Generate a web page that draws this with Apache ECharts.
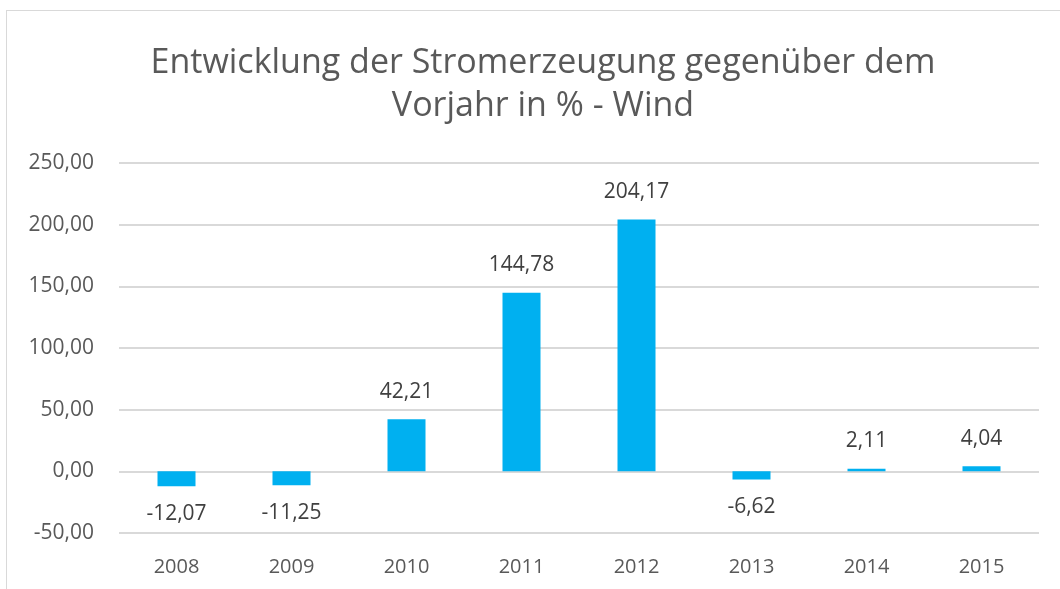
<!DOCTYPE html>
<html>
<head>
<meta charset="utf-8">
<style>
	html, body { margin: 0; padding: 0; background: #fff; }
	#frame { position: absolute; left: 6px; top: 10px; width: 1070px; height: 600px; border: 1px solid #d9d9d9; box-sizing: border-box; }
	#chart { position: absolute; left: 0; top: 0; width: 1060px; height: 589px; }
</style>
</head>
<body>
	<div id="frame"></div>
	<div id="chart"></div>

	<script src="https://cdn.jsdelivr.net/npm/echarts@6/dist/echarts.min.js"></script>
	<script>
		var years = ['2008','2009','2010','2011','2012','2013','2014','2015'];
		var values = [-12.07, -11.25, 42.21, 144.78, 204.17, -6.62, 2.11, 4.04];

		var fmt = function (v) { return v.toFixed(2).replace('.', ','); };

		// negative bars get their label underneath
		var barData = values.map(function (v) {
		    return { value: v, label: { position: v < 0 ? 'bottom' : 'top' } };
		});

		var chart = echarts.init(document.getElementById('chart'));

		chart.setOption({
		    title: {
		        text: 'Entwicklung der Stromerzeugung gegenüber dem\nVorjahr in % - Wind',
		        left: 538, top: 37,
		        textAlign: 'center',
		        textStyle: { fontFamily: 'Open Sans', fontSize: 34, fontWeight: 'normal', color: '#595959', lineHeight: 43 }
		    },
		    grid: { left: 119, right: 21, top: 163, bottom: 56 },
		    xAxis: {
		        type: 'category',
		        data: years,
		        axisLine: { show: false },
		        axisTick: { show: false },
		        axisLabel: { color: '#595959', fontSize: 20, fontFamily: 'Open Sans', margin: 24 }
		    },
		    yAxis: {
		        type: 'value',
		        min: -50, max: 250, interval: 50,
		        axisLine: { show: false },
		        axisTick: { show: false },
		        splitLine: { lineStyle: { color: '#d9d9d9', width: 2 } },
		        axisLabel: { color: '#595959', fontSize: 21, fontFamily: 'Open Sans', margin: 25, formatter: fmt }
		    },
		    series: [{
		        type: 'bar',
		        data: barData,
		        barWidth: 38,
		        itemStyle: { color: '#00b0f0' },
		        label: {
		            show: true,
		            distance: 17,
		            color: '#404040',
		            fontSize: 21,
		            fontFamily: 'Open Sans',
		            formatter: function (p) { return fmt(p.value); }
		        }
		    }]
		});
	</script>
</body>
</html>
